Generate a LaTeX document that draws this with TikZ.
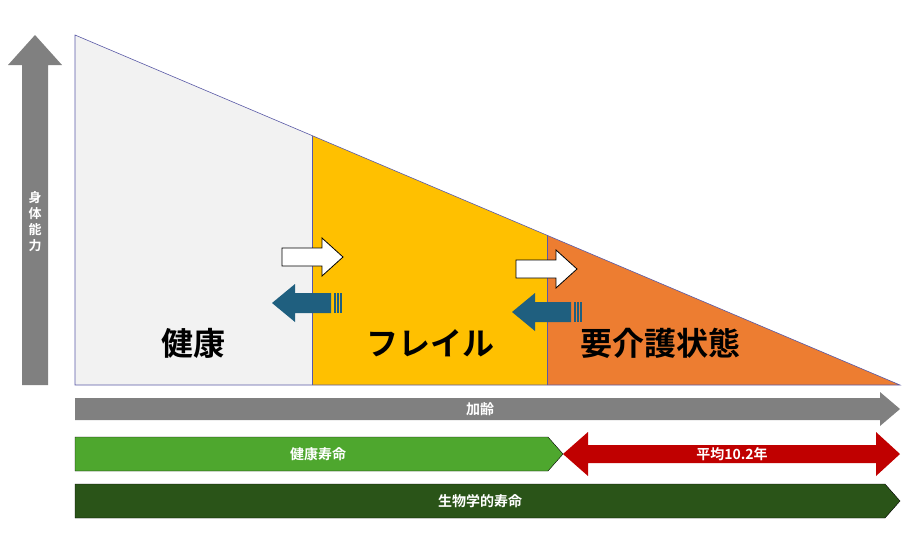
\documentclass[tikz,border=0pt]{standalone}
\usepackage{fontspec}
\setmainfont{Noto Sans CJK JP Bold}
\definecolor{healthgray}{HTML}{F2F2F2}
\definecolor{frailyellow}{HTML}{FFC000}
\definecolor{careorange}{HTML}{ED7D31}
\definecolor{stepblue}{HTML}{1F5F7F}
\definecolor{lifegreen}{HTML}{4EA72E}
\definecolor{biogreen}{HTML}{2A5418}
\definecolor{avgred}{HTML}{C00000}
\begin{document}
\begin{tikzpicture}[x=1pt,y=-1pt,
        zone/.style={draw=gray!70!blue, line width=.6pt},
        bigtext/.style={font=\fontsize{32}{32}\selectfont},
        bartext/.style={text=white, font=\fontsize{14}{14}\selectfont}
    ]
    \useasboundingbox (0,0) rectangle (910,550);

    % zones
    \fill[healthgray] (75,35) -- (312,135.6) -- (312,385) -- (75,385) -- cycle;
    \fill[frailyellow] (312,135.6) -- (547,235.3) -- (547,385) -- (312,385) -- cycle;
    \fill[careorange] (547,235.3) -- (900,385) -- (547,385) -- cycle;
    \draw[zone] (75,385) -- (75,35) -- (900,385) -- cycle;
    \draw[zone] (312,135.6) -- (312,385);
    \draw[zone] (547,235.3) -- (547,385);

    \node[bigtext] (kenko) at (193,343) {健康};
    \node[bigtext] (frail) at (430,343) {フレイル};
    \node[bigtext] (kaigo) at (660,343) {要介護状態};

    % transition arrows
    \foreach \x/\y in {282/257, 516/269} {
        \draw[fill=white, line width=.8pt]
            (\x,\y-9) -- (\x+40,\y-9) -- (\x+40,\y-19) -- (\x+61,\y)
            -- (\x+40,\y+19) -- (\x+40,\y+9) -- (\x,\y+9) -- cycle;
    }
    \foreach \x/\y in {272/303, 512/312} {
        \fill[stepblue]
            (\x,\y) -- (\x+23,\y-19) -- (\x+23,\y-10) -- (\x+59,\y-10)
            -- (\x+59,\y+10) -- (\x+23,\y+10) -- (\x+23,\y+19) -- cycle;
        \foreach \s in {62,65,68}
            \fill[stepblue] (\x+\s,\y-10) rectangle (\x+\s+1.5,\y+10);
    }

    % axes
    \fill[gray] (22,385) -- (22,65) -- (8,65) -- (35,35) -- (62,65) -- (48,65) -- (48,385) -- cycle;
    \node[bartext, align=center, font=\fontsize{13}{16}\selectfont] (nouryoku) at (35,222) {身\\体\\能\\力};
    \fill[gray] (75,398) -- (880,398) -- (880,392) -- (900,409) -- (880,426) -- (880,420) -- (75,420) -- cycle;
    \node[bartext] (karei) at (480,409) {加齢};

    % lifespans
    \draw[fill=lifegreen] (75,437) -- (548,437) -- (563,454) -- (548,471) -- (75,471) -- cycle;
    \node[bartext] (kenkojumyo) at (318,454) {健康寿命};
    \fill[avgred] (563,454) -- (588,432) -- (588,445) -- (876,445) -- (876,432) -- (900,454)
        -- (876,476) -- (876,463) -- (588,463) -- (588,476) -- cycle;
    \node[bartext] (heikin) at (732,454) {平均10.2年};
    \draw[fill=biogreen] (75,484) -- (885,484) -- (900,501) -- (885,518) -- (75,518) -- cycle;
    \node[bartext] (seibutsu) at (480,501) {生物学的寿命};
\end{tikzpicture}
\end{document}
